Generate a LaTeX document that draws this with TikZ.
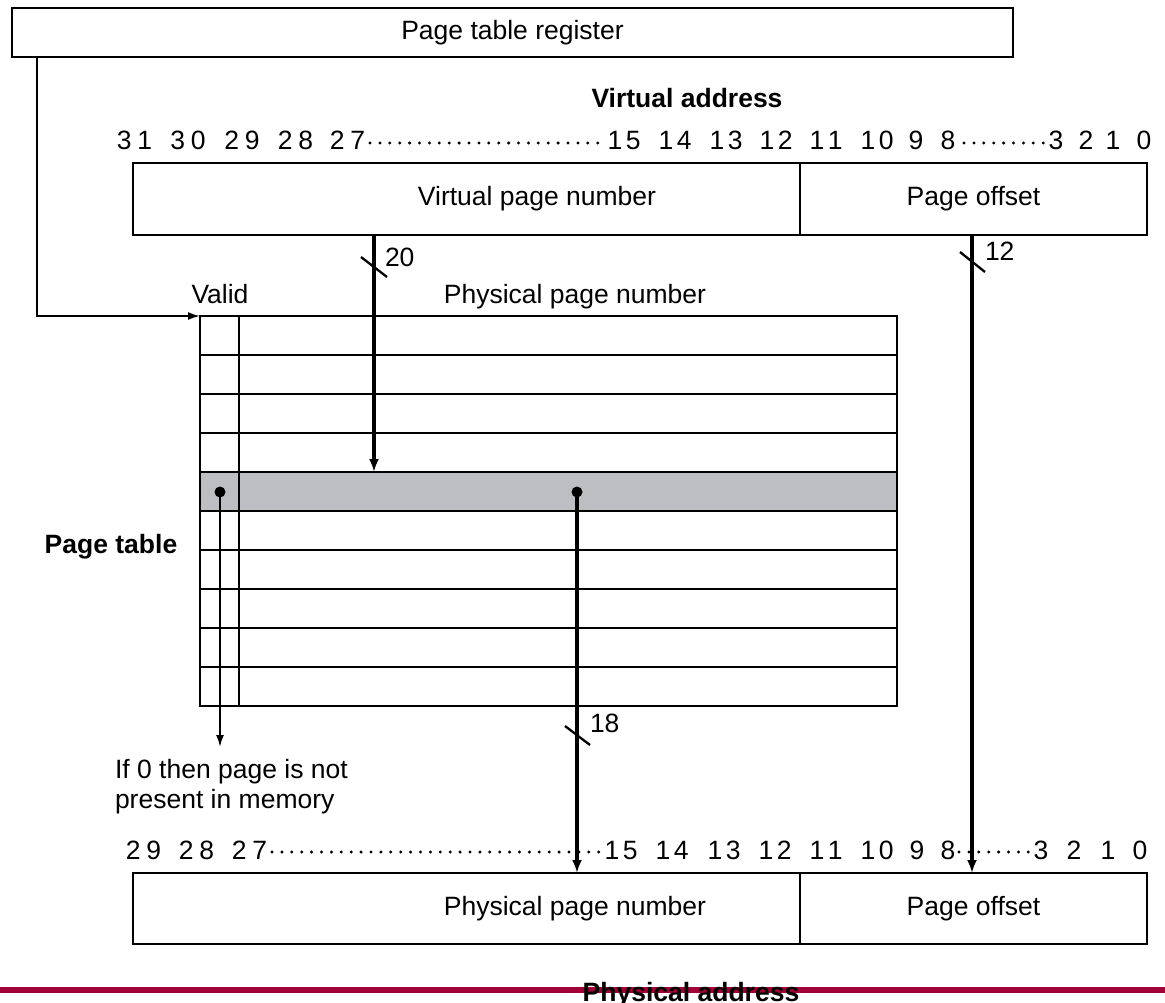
\documentclass[tikz,border=0pt]{standalone}
\usepackage{fontspec}
\setmainfont{Liberation Sans}
\usetikzlibrary{arrows.meta,calc}
\definecolor{rowgray}{RGB}{189,190,194}
\definecolor{barred}{RGB}{160,0,55}
\newcommand\bw[2]{#1\kern6pt#2}
\newcommand\bn[2]{#1\kern3.5pt#2}
\begin{document}
\begin{tikzpicture}[x=1pt,y=-1pt,
  every node/.style={font=\fontsize{26.5}{30}\selectfont, inner sep=0pt, outer sep=0pt},
  box/.style={draw, line width=1.8pt, rectangle, anchor=north west},
  gridline/.style={line width=1.7pt},
  thickarrow/.style={line width=3.4pt, -{Latex[length=13pt,width=10pt]}},
  thinarrow/.style={line width=1.8pt, -{Latex[length=12pt,width=8pt]}},
  tickmark/.style={line width=2.3pt},
  boldtxt/.style={font=\fontsize{26.5}{30}\selectfont\bfseries},
  dot/.style={circle, fill=black, minimum size=11pt, inner sep=0pt},
  bit/.style={anchor=base},
  leader/.style={line width=3.3pt, line cap=round, dash pattern=on 0pt off 9.9pt},
]
\useasboundingbox (0,0) rectangle (1165,1003);

% page table register
\node[box, minimum width=1001pt, minimum height=49pt] (reg) at (12,8) {Page table register};

% virtual address
\node[boldtxt, anchor=base] (vatitle) at (687,108) {Virtual address};
\node[bit] (t31) at (134.5,150) {\bw31};
\node[bit] (t30) at (188,150) {\bw30};
\node[bit] (t29) at (242,150) {\bw29};
\node[bit] (t28) at (295.5,150) {\bw28};
\node[bit] (t27) at (347.5,150) {\bw27};
\draw[leader] (370,143) -- (606,143);
\node[bit] (t15) at (624,150) {\bn15};
\node[bit] (t14) at (675,150) {\bn14};
\node[bit] (t13) at (726,150) {\bn13};
\node[bit] (t12) at (776,150) {\bn12};
\node[bit] (t11) at (826,150) {\bn11};
\node[bit] (t10) at (877,150) {\bn10};
\node[bit] (t9) at (916,150) {9};
\node[bit] (t8) at (948,150) {8};
\draw[leader] (964,143) -- (1044,143);
\node[bit] (t3) at (1056,150) {3};
\node[bit] (t2) at (1086,150) {2};
\node[bit] (t1) at (1113,150) {1};
\node[bit] (t0) at (1144,150) {0};

\node[box, minimum width=667pt, minimum height=72pt] (vpn) at (133,163) {};
\node[box, minimum width=347pt, minimum height=72pt] (voff) at (800,163) {Page offset};
\node (vpntxt) at (537,199) {Virtual page number};

% page table
\node[anchor=base] (validlbl) at (220,303) {Valid};
\node[anchor=base] (ppnlbl) at (575,303) {Physical page number};
\fill[rowgray] (200,472) rectangle (897,511);
\node[box, minimum width=697pt, minimum height=390pt] (tbl) at (200,316) {};
\foreach \i in {1,...,9} {
  \draw[gridline] (200,{316+39*\i}) -- (897,{316+39*\i});
}
\draw[gridline] (239,316) -- (239,706);
\node[boldtxt, anchor=base] (ptlbl) at (111,553) {Page table};
\node[dot] (vdot) at (220,492) {};
\node[dot] (pdot) at (577,492) {};

% connectors
\coordinate (regout) at (37,57);
\draw[thinarrow] (regout) |- (tbl.north west);
\coordinate (vpnout) at (374,235);
\coordinate (hit) at (374,472);
\draw[thickarrow] (vpnout) -- (hit);
\draw[tickmark] (361,257) -- (387,277);
\node[anchor=base west] (n20) at (385,266) {20};

\coordinate (offout) at (972,235);
\coordinate (offin) at (972,873);
\draw[thickarrow] (offout) -- (offin);
\draw[tickmark] (960,252) -- (985,272);
\node[anchor=base west] (n12) at (985,261) {12};

\coordinate (ppnin) at (577,873);
\draw[thickarrow] (pdot.center) -- (ppnin);
\draw[tickmark] (565,726) -- (590,745);
\node[anchor=base west] (n18) at (590,732) {18};

\coordinate (vend) at (220,747);
\draw[thinarrow] (vdot.center) -- (vend);
\node[anchor=base west] (note1) at (115,778) {If 0 then page is not};
\node[anchor=base west] (note2) at (115,808) {present in memory};

% physical address
\node[bit] (b29) at (143.5,859) {\bw29};
\node[bit] (b28) at (196.5,859) {\bw28};
\node[bit] (b27) at (249.5,859) {\bw27};
\draw[leader] (272,852) -- (604,852);
\node[bit] (b15) at (621,859) {\bn15};
\node[bit] (b14) at (672,859) {\bn14};
\node[bit] (b13) at (724,859) {\bn13};
\node[bit] (b12) at (775,859) {\bn12};
\node[bit] (b11) at (826,859) {\bn11};
\node[bit] (b10) at (877,859) {\bn10};
\node[bit] (b9) at (917,859) {9};
\node[bit] (b8) at (948,859) {8};
\draw[leader] (959,852) -- (1030,852);
\node[bit] (b3) at (1041,859) {3};
\node[bit] (b2) at (1074,859) {2};
\node[bit] (b1) at (1108,859) {1};
\node[bit] (b0) at (1140,859) {0};

\node[box, minimum width=667pt, minimum height=71pt] (ppn) at (133,873) {};
\node[box, minimum width=347pt, minimum height=71pt] (poff) at (800,873) {Page offset};
\node (ppntxt) at (575,908.5) {Physical page number};

\draw[barred, line width=6pt] (0,990) -- (1165,990);
\node[boldtxt, anchor=base] (patitle) at (691,1001) {Physical address};
\end{tikzpicture}
\end{document}
